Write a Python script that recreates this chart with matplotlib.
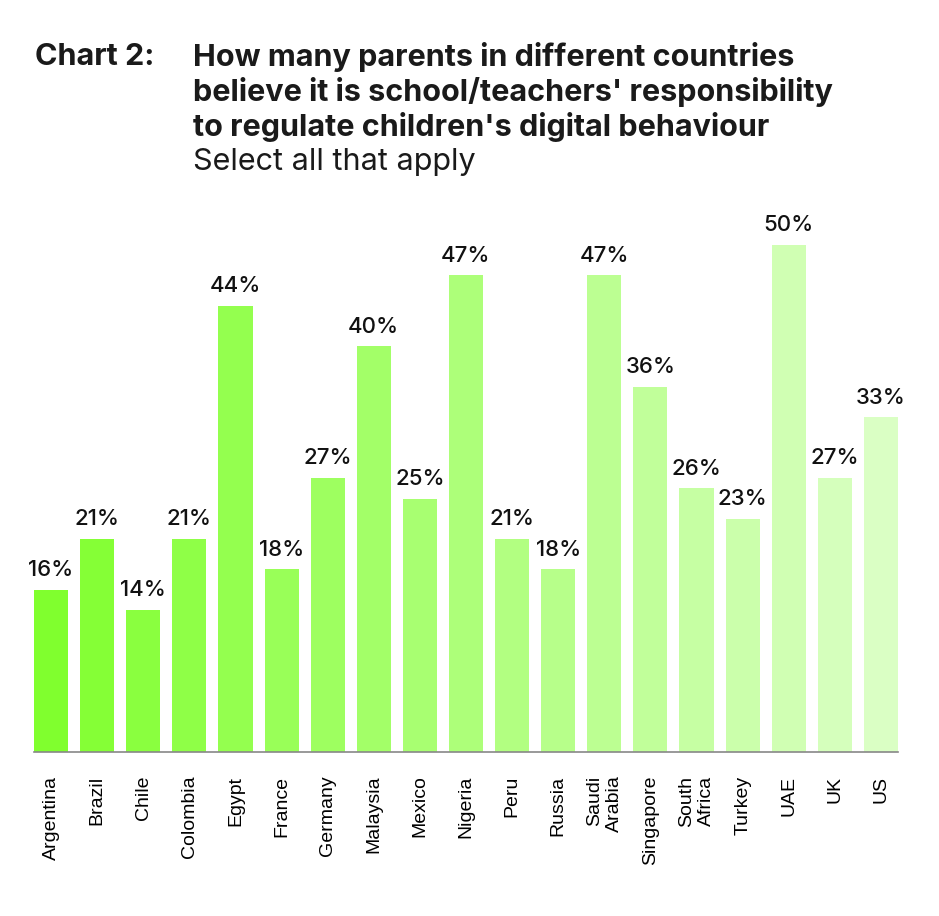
import matplotlib
matplotlib.use("Agg")
import matplotlib.pyplot as plt
import numpy as np
from matplotlib.colors import to_rgb

countries = ["Argentina", "Brazil", "Chile", "Colombia", "Egypt", "France", "Germany",
             "Malaysia", "Mexico", "Nigeria", "Peru", "Russia", "Saudi\nArabia",
             "Singapore", "South\nAfrica", "Turkey", "UAE", "UK", "US"]
values = [16, 21, 14, 21, 44, 18, 27, 40, 25, 47, 21, 18, 47, 36, 26, 23, 50, 27, 33]
labels = [f"{v}%" for v in values]

title_prefix = "Chart 2:"
title_lines = ["How many parents in different countries",
               "believe it is school/teachers' responsibility",
               "to regulate children's digital behaviour"]
subtitle = "Select all that apply"

fig = plt.figure(figsize=(9.39, 9.16), dpi=100)
W, H = 939, 916
ax_left, ax_right = 34 / W, 898 / W
ax_bottom = (H - 752) / H
ax_top = (H - 200) / H
ax = fig.add_axes([ax_left, ax_bottom, ax_right - ax_left, ax_top - ax_bottom])

n = len(values)
c0 = np.array(to_rgb("#80ff2e"))
c1 = np.array(to_rgb("#daffc4"))
colors = [tuple(c0 + (c1 - c0) * i / (n - 1)) for i in range(n)]

x = np.arange(n)
bw = 0.74
ax.bar(x, values, width=bw, color=colors, zorder=2)
ax.set_xlim(-bw / 2, n - 1 + bw / 2)
ax.set_ylim(0, 50 * 552 / 507)

for xi, v, lab in zip(x, values, labels):
    ax.annotate(lab, (xi, v), xytext=(0, 7), textcoords="offset points",
                ha="center", va="bottom", fontsize=16, family="Inter",
                fontweight="medium", color="#111111")

for s in ["top", "right", "left"]:
    ax.spines[s].set_visible(False)
ax.spines["bottom"].set_color("#888888")
ax.spines["bottom"].set_linewidth(1.2)
ax.set_yticks([])
ax.set_xticks(x)
ax.set_xticklabels(countries, rotation=90, fontsize=14, family="Liberation Sans",
                   va="top", ha="center", multialignment="right")
ax.tick_params(axis="x", length=0, pad=17)

tfs = 22
fig.text(35 / W, 1 - 57 / H, title_prefix, fontsize=tfs, fontweight="bold",
         family="Inter", va="center", ha="left", color="#1a1a1a")
for i, line in enumerate(title_lines):
    fig.text(193 / W, 1 - (57 + 35 * i) / H, line, fontsize=tfs, fontweight="bold",
             family="Inter", va="center", ha="left", color="#1a1a1a")
fig.text(193 / W, 1 - 162 / H, subtitle, fontsize=tfs, family="Inter",
         fontweight="normal", va="center", ha="left", color="#1a1a1a")

fig.savefig("out.png", dpi=100, facecolor="white")
